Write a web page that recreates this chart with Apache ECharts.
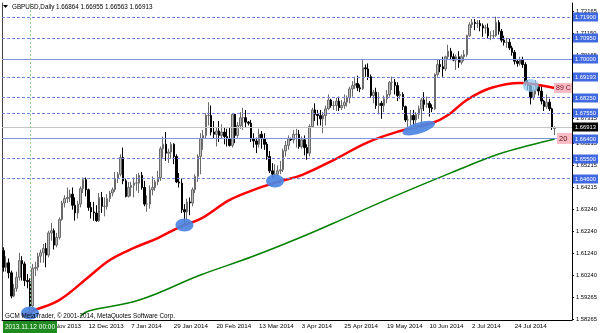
<!DOCTYPE html>
<html><head><meta charset="utf-8">
<script src="https://cdn.jsdelivr.net/npm/echarts@6/dist/echarts.min.js"></script>
<style>html,body{margin:0;padding:0;background:#fff}#c{width:600px;height:333px}</style>
</head><body><div id="c"></div>
<script>
// date, open, high, low, close
const bars = [
['2013-10-29',1.6135,1.6150,1.6040,1.6060],['2013-10-30',1.6060,1.6110,1.6040,1.6080],['2013-10-31',1.6080,1.6100,1.6010,1.6035],
['2013-11-01',1.6035,1.6045,1.5920,1.5930],['2013-11-04',1.5930,1.5985,1.5925,1.5965],['2013-11-05',1.5965,1.6040,1.5950,1.6015],
['2013-11-06',1.6015,1.6125,1.6000,1.6090],['2013-11-07',1.6090,1.6110,1.6000,1.6075],['2013-11-08',1.6075,1.6085,1.5975,1.6000],
['2013-11-11',1.6000,1.6030,1.5965,1.5995],['2013-11-12',1.5995,1.6010,1.5855,1.5885],['2013-11-13',1.5885,1.6075,1.5875,1.6055],
['2013-11-14',1.6055,1.6085,1.6020,1.6060],['2013-11-15',1.6060,1.6125,1.6045,1.6110],['2013-11-18',1.6110,1.6140,1.6080,1.6125],
['2013-11-19',1.6125,1.6165,1.6080,1.6145],['2013-11-20',1.6145,1.6170,1.6060,1.6115],['2013-11-21',1.6115,1.6225,1.6105,1.6215],
['2013-11-22',1.6215,1.6260,1.6180,1.6225],['2013-11-25',1.6225,1.6235,1.6140,1.6160],['2013-11-26',1.6160,1.6215,1.6150,1.6195],
['2013-11-27',1.6195,1.6285,1.6185,1.6275],['2013-11-28',1.6275,1.6360,1.6270,1.6350],['2013-11-29',1.6350,1.6385,1.6330,1.6370],
['2013-12-02',1.6370,1.6420,1.6350,1.6375],['2013-12-03',1.6375,1.6410,1.6355,1.6390],['2013-12-04',1.6390,1.6420,1.6320,1.6340],
['2013-12-05',1.6340,1.6375,1.6270,1.6305],['2013-12-06',1.6305,1.6360,1.6280,1.6345],['2013-12-09',1.6345,1.6425,1.6330,1.6415],
['2013-12-10',1.6415,1.6465,1.6395,1.6455],['2013-12-11',1.6455,1.6465,1.6380,1.6410],['2013-12-12',1.6410,1.6415,1.6315,1.6330],
['2013-12-13',1.6330,1.6355,1.6280,1.6310],['2013-12-16',1.6310,1.6355,1.6270,1.6305],['2013-12-17',1.6305,1.6340,1.6265,1.6270],
['2013-12-18',1.6270,1.6395,1.6265,1.6375],['2013-12-19',1.6375,1.6400,1.6305,1.6335],['2013-12-20',1.6335,1.6375,1.6290,1.6335],
['2013-12-23',1.6335,1.6390,1.6320,1.6370],['2013-12-24',1.6370,1.6405,1.6355,1.6395],['2013-12-26',1.6395,1.6420,1.6380,1.6410],
['2013-12-27',1.6410,1.6490,1.6400,1.6460],['2013-12-30',1.6460,1.6490,1.6440,1.6480],['2013-12-31',1.6480,1.6570,1.6470,1.6555],
['2014-01-02',1.6555,1.6600,1.6435,1.6450],['2014-01-03',1.6450,1.6460,1.6375,1.6380],['2014-01-06',1.6380,1.6445,1.6375,1.6420],
['2014-01-07',1.6420,1.6445,1.6380,1.6430],['2014-01-08',1.6430,1.6465,1.6375,1.6440],['2014-01-09',1.6440,1.6480,1.6405,1.6440],
['2014-01-10',1.6440,1.6485,1.6395,1.6475],['2014-01-13',1.6475,1.6490,1.6410,1.6420],['2014-01-14',1.6420,1.6450,1.6335,1.6345],
['2014-01-15',1.6345,1.6385,1.6310,1.6345],['2014-01-16',1.6345,1.6430,1.6325,1.6410],['2014-01-17',1.6410,1.6470,1.6385,1.6420],
['2014-01-20',1.6420,1.6455,1.6405,1.6445],['2014-01-21',1.6445,1.6495,1.6430,1.6465],['2014-01-22',1.6465,1.6605,1.6450,1.6595],
['2014-01-23',1.6595,1.6650,1.6555,1.6615],['2014-01-24',1.6615,1.6670,1.6540,1.6575],['2014-01-27',1.6575,1.6595,1.6530,1.6580],
['2014-01-28',1.6580,1.6625,1.6550,1.6615],['2014-01-29',1.6615,1.6620,1.6525,1.6560],['2014-01-30',1.6560,1.6570,1.6440,1.6445],
['2014-01-31',1.6445,1.6485,1.6420,1.6440],['2014-02-03',1.6440,1.6460,1.6305,1.6320],['2014-02-04',1.6320,1.6345,1.6252,1.6310],
['2014-02-05',1.6310,1.6370,1.6265,1.6355],['2014-02-06',1.6355,1.6375,1.6295,1.6350],['2014-02-07',1.6350,1.6420,1.6335,1.6410],
['2014-02-10',1.6410,1.6480,1.6395,1.6470],['2014-02-11',1.6470,1.6570,1.6445,1.6560],['2014-02-12',1.6560,1.6665,1.6480,1.6640],
['2014-02-13',1.6640,1.6680,1.6590,1.6655],['2014-02-14',1.6655,1.6755,1.6640,1.6745],['2014-02-17',1.6745,1.6805,1.6700,1.6745],
['2014-02-18',1.6745,1.6790,1.6655,1.6670],['2014-02-19',1.6670,1.6720,1.6640,1.6660],['2014-02-20',1.6660,1.6690,1.6605,1.6675],
['2014-02-21',1.6675,1.6720,1.6625,1.6655],['2014-02-24',1.6655,1.6705,1.6640,1.6670],['2014-02-25',1.6670,1.6690,1.6615,1.6650],
['2014-02-26',1.6650,1.6685,1.6605,1.6640],['2014-02-27',1.6640,1.6690,1.6605,1.6610],['2014-02-28',1.6610,1.6755,1.6600,1.6750],
['2014-03-03',1.6750,1.6755,1.6620,1.6655],['2014-03-04',1.6655,1.6715,1.6645,1.6700],['2014-03-05',1.6700,1.6760,1.6685,1.6735],
['2014-03-06',1.6735,1.6780,1.6680,1.6735],['2014-03-07',1.6735,1.6770,1.6690,1.6715],['2014-03-09',1.6715,1.6720,1.6700,1.6710],
['2014-03-10',1.6710,1.6725,1.6625,1.6640],['2014-03-11',1.6640,1.6665,1.6600,1.6630],['2014-03-12',1.6630,1.6645,1.6575,1.6615],
['2014-03-13',1.6615,1.6685,1.6600,1.6660],['2014-03-14',1.6660,1.6675,1.6595,1.6640],['2014-03-17',1.6640,1.6665,1.6590,1.6615],
['2014-03-18',1.6615,1.6625,1.6545,1.6560],['2014-03-19',1.6560,1.6585,1.6485,1.6495],['2014-03-20',1.6495,1.6530,1.6460,1.6480],
['2014-03-21',1.6480,1.6525,1.6462,1.6480],['2014-03-24',1.6480,1.6520,1.6470,1.6495],['2014-03-25',1.6495,1.6540,1.6480,1.6500],
['2014-03-26',1.6500,1.6595,1.6490,1.6585],['2014-03-27',1.6585,1.6630,1.6560,1.6610],['2014-03-28',1.6610,1.6655,1.6590,1.6640],
['2014-03-30',1.6640,1.6645,1.6630,1.6635],['2014-03-31',1.6635,1.6680,1.6620,1.6660],['2014-04-01',1.6660,1.6685,1.6600,1.6660],
['2014-04-02',1.6660,1.6680,1.6595,1.6605],['2014-04-03',1.6605,1.6650,1.6595,1.6635],['2014-04-04',1.6635,1.6655,1.6565,1.6600],
['2014-04-07',1.6600,1.6615,1.6545,1.6575],['2014-04-08',1.6575,1.6705,1.6560,1.6695],['2014-04-09',1.6695,1.6780,1.6690,1.6770],
['2014-04-10',1.6770,1.6800,1.6720,1.6750],['2014-04-11',1.6750,1.6770,1.6700,1.6745],['2014-04-14',1.6745,1.6770,1.6700,1.6730],
['2014-04-15',1.6730,1.6760,1.6665,1.6745],['2014-04-16',1.6745,1.6790,1.6700,1.6775],['2014-04-17',1.6775,1.6840,1.6770,1.6815],
['2014-04-18',1.6815,1.6820,1.6780,1.6790],['2014-04-21',1.6790,1.6810,1.6770,1.6790],['2014-04-22',1.6790,1.6825,1.6765,1.6810],
['2014-04-23',1.6810,1.6830,1.6765,1.6780],['2014-04-24',1.6780,1.6815,1.6770,1.6790],['2014-04-25',1.6790,1.6840,1.6775,1.6805],
['2014-04-28',1.6805,1.6835,1.6785,1.6825],['2014-04-29',1.6825,1.6875,1.6800,1.6865],['2014-04-30',1.6865,1.6900,1.6830,1.6880],
['2014-05-01',1.6880,1.6920,1.6865,1.6890],['2014-05-02',1.6890,1.6925,1.6855,1.6870],['2014-05-05',1.6870,1.6885,1.6850,1.6865],
['2014-05-06',1.6865,1.6995,1.6860,1.6960],['2014-05-07',1.6960,1.6975,1.6920,1.6955],['2014-05-08',1.6955,1.6980,1.6905,1.6920],
['2014-05-09',1.6920,1.6930,1.6825,1.6835],['2014-05-12',1.6835,1.6860,1.6800,1.6850],['2014-05-13',1.6850,1.6870,1.6775,1.6790],
['2014-05-14',1.6790,1.6850,1.6750,1.6800],['2014-05-15',1.6800,1.6810,1.6730,1.6790],['2014-05-16',1.6790,1.6835,1.6760,1.6820],
['2014-05-19',1.6820,1.6860,1.6800,1.6840],['2014-05-20',1.6840,1.6900,1.6830,1.6895],['2014-05-21',1.6895,1.6920,1.6860,1.6895],
['2014-05-22',1.6895,1.6910,1.6840,1.6880],['2014-05-23',1.6880,1.6895,1.6810,1.6835],['2014-05-26',1.6835,1.6855,1.6820,1.6840],
['2014-05-27',1.6840,1.6850,1.6770,1.6785],['2014-05-28',1.6785,1.6790,1.6715,1.6725],['2014-05-29',1.6725,1.6745,1.6693,1.6725],
['2014-05-30',1.6725,1.6770,1.6700,1.6745],['2014-06-02',1.6745,1.6770,1.6700,1.6725],['2014-06-03',1.6725,1.6760,1.6695,1.6750],
['2014-06-04',1.6750,1.6790,1.6730,1.6775],['2014-06-05',1.6775,1.6825,1.6700,1.6815],['2014-06-06',1.6815,1.6850,1.6765,1.6795],
['2014-06-09',1.6795,1.6830,1.6780,1.6800],['2014-06-10',1.6800,1.6810,1.6740,1.6780],['2014-06-11',1.6780,1.6795,1.6760,1.6775],
['2014-06-12',1.6775,1.6935,1.6770,1.6930],['2014-06-13',1.6930,1.6995,1.6920,1.6975],['2014-06-16',1.6975,1.7000,1.6940,1.6965],
['2014-06-17',1.6965,1.7010,1.6920,1.6955],['2014-06-18',1.6955,1.7015,1.6945,1.7010],['2014-06-19',1.7010,1.7064,1.6995,1.7035],
['2014-06-20',1.7035,1.7050,1.6995,1.7010],['2014-06-23',1.7010,1.7025,1.6990,1.6995],['2014-06-24',1.6995,1.7020,1.6950,1.7010],
['2014-06-25',1.7010,1.7035,1.6960,1.6985],['2014-06-26',1.6985,1.7020,1.6975,1.7010],['2014-06-27',1.7010,1.7040,1.6990,1.7020],
['2014-06-30',1.7020,1.7110,1.7010,1.7105],['2014-07-01',1.7105,1.7165,1.7100,1.7155],['2014-07-02',1.7155,1.7180,1.7140,1.7165],
['2014-07-03',1.7165,1.7180,1.7130,1.7160],['2014-07-04',1.7160,1.7175,1.7140,1.7160],['2014-07-07',1.7160,1.7175,1.7125,1.7150],
['2014-07-08',1.7150,1.7160,1.7100,1.7140],['2014-07-09',1.7140,1.7155,1.7115,1.7140],['2014-07-10',1.7140,1.7160,1.7090,1.7105],
['2014-07-11',1.7105,1.7125,1.7085,1.7105],['2014-07-14',1.7105,1.7130,1.7090,1.7105],['2014-07-15',1.7105,1.7191,1.7100,1.7165],
['2014-07-16',1.7165,1.7175,1.7110,1.7125],['2014-07-17',1.7125,1.7135,1.7075,1.7085],['2014-07-18',1.7085,1.7105,1.7060,1.7075],
['2014-07-21',1.7075,1.7095,1.7050,1.7075],['2014-07-22',1.7075,1.7090,1.7040,1.7050],['2014-07-23',1.7050,1.7060,1.7015,1.7030],
['2014-07-24',1.7030,1.7040,1.6975,1.6990],['2014-07-25',1.6990,1.7000,1.6965,1.6980],['2014-07-28',1.6980,1.7010,1.6970,1.6995],
['2014-07-29',1.6995,1.7010,1.6960,1.6975],['2014-07-30',1.6975,1.6985,1.6880,1.6890],['2014-07-31',1.6890,1.6905,1.6860,1.6880],
['2014-08-01',1.6880,1.6885,1.6795,1.6825],['2014-08-04',1.6825,1.6875,1.6815,1.6860],['2014-08-05',1.6860,1.6905,1.6840,1.6875],
['2014-08-06',1.6875,1.6885,1.6835,1.6855],['2014-08-07',1.6855,1.6880,1.6795,1.6810],['2014-08-08',1.6810,1.6815,1.6765,1.6785],
['2014-08-11',1.6785,1.6840,1.6775,1.6805],['2014-08-12',1.6805,1.6820,1.6765,1.6775],['2014-08-13',1.6775,1.6780,1.6680,1.6690],
['2014-08-14',1.66864,1.66955,1.66563,1.66913]
];
// empty right-hand slots (chart shift)
const futureSlots = ['2014-08-15','2014-08-18','2014-08-19','2014-08-20','2014-08-21','2014-08-22'];

const xTickLabels = ['29 Oct 2013','20 Nov 2013','12 Dec 2013','7 Jan 2014','29 Jan 2014','20 Feb 2014','13 Mar 2014','3 Apr 2014','25 Apr 2014','19 May 2014','10 Jun 2014','2 Jul 2014','24 Jul 2014'];
const tickEvery = 16;

// moving averages: bar index and value
const redMaBar = [7,11,21,32,40,49,58,67,74,85,94,103,112,124,137,149,161,167,174,183,194,201,207];
const redMaVal = [1.5840,1.5863,1.5912,1.6016,1.6093,1.6147,1.6192,1.6246,1.6278,1.6364,1.6409,1.6445,1.6476,1.6544,1.6625,1.6675,1.6711,1.6747,1.6815,1.6869,1.6892,1.6883,1.6869];
const greenMaBar = [29,32,51,74,93,111,130,149,168,186,198,207];
const greenMaVal = [1.5840,1.5863,1.5912,1.6025,1.6106,1.6192,1.6291,1.6391,1.6486,1.6571,1.6612,1.6639];

// horizontal levels
const levelPrices = [1.71900,1.70950,1.70000,1.69193,1.68250,1.67550,1.66400,1.65500,1.64600];
const levelStyles = ['dash','dash','solid','dash','dash','dash','solid','dash','dash'];
const currentPrice = 1.66913;
const plainPriceLabels = [1.72165,1.71150,1.70165,1.67315,1.66215,1.65215,1.64215,1.63240,1.62240,1.61240,1.60240,1.59265,1.58265];

const crossDate = '2013-11-12';
const crossLabel = '2013.11.12 00:00';
// highlighted touch points: [date, price]
const touchMarks = [['2013-11-12',1.5854],['2014-02-04',1.6251],['2014-03-21',1.6449],['2014-06-04',1.6688]];
const touchMarkLight = ['2014-08-01',1.6880];

const FONT = 'Liberation Sans';
const categories = bars.map(b => b[0]).concat(futureSlots);
const candleData = bars.map(b => [b[1], b[4], b[3], b[2]]);

const mlData = [];
levelPrices.forEach((p, i) => mlData.push({
  yAxis: p,
  lineStyle: levelStyles[i] === 'solid' ? {color: '#7f93de', type: 'solid', width: 1} : {color: '#6f82dc', type: [3, 2], width: 1}
}));
mlData.push({yAxis: currentPrice, lineStyle: {color: '#c4c4c4', type: 'solid', width: 1}});
mlData.push({xAxis: crossDate, lineStyle: {color: '#8fd28f', type: [2, 2], width: 1}});

const chart = echarts.init(document.getElementById('c'), null, {renderer: 'canvas'});
const showTick = (i) => i % tickEvery === 0 && i / tickEvery < xTickLabels.length;
chart.setOption({
  animation: false,
  backgroundColor: '#fff',
  grid: {left: 2, right: 28, top: 3, bottom: 13, containLabel: false},
  xAxis: {
    type: 'category', data: categories, boundaryGap: true,
    axisLine: {lineStyle: {color: '#000', width: 1}},
    axisTick: {interval: showTick, alignWithLabel: true, length: 4, lineStyle: {color: '#000'}},
    axisLabel: {interval: showTick, formatter: (v, i) => xTickLabels[i / tickEvery] || '', align: 'left', fontSize: 6.2, color: '#000', margin: 3, fontFamily: FONT},
    splitLine: {show: false}
  },
  yAxis: [
    {type: 'value', position: 'right', min: 1.58220, max: 1.72526, axisLine: {show: true, lineStyle: {color: '#000'}}, axisTick: {show: false}, axisLabel: {show: false}, splitLine: {show: false}},
    {type: 'value', position: 'left', min: 1.58220, max: 1.72526, axisLine: {show: true, lineStyle: {color: '#444'}}, axisTick: {show: false}, axisLabel: {show: false}, splitLine: {show: false}}
  ],
  series: [
    {
      type: 'candlestick', data: candleData, barWidth: 2,
      itemStyle: {color: '#bdbdbd', color0: '#000', borderColor: '#6a6a6a', borderColor0: '#000', borderWidth: 1},
      markLine: {silent: true, precision: 5, symbol: ['none', 'none'], animation: false, label: {show: false}, data: mlData}
    },
    {
      type: 'line', data: greenMaBar.map((b, i) => [b, greenMaVal[i]]), smooth: 0.4, symbol: 'none',
      lineStyle: {color: '#008000', width: 1.5}, z: 3
    },
    {
      type: 'line', data: redMaBar.map((b, i) => [b, redMaVal[i]]), smooth: 0.4, symbol: 'none',
      lineStyle: {color: '#ff0000', width: 2.5}, z: 3
    }
  ]
});

const P = (x, y) => chart.convertToPixel({xAxisIndex: 0, yAxisIndex: 0}, [x, y]);
const plotRight = 572;
const g = [];
// price scale labels
plainPriceLabels.forEach(p => {
  const y = Math.round(P(0, p)[1]);
  g.push({type: 'line', shape: {x1: plotRight, y1: y + 0.5, x2: plotRight + 2, y2: y + 0.5}, style: {stroke: '#000', lineWidth: 1}, z: 120});
  g.push({type: 'text', x: plotRight + 4, y: y, style: {text: p.toFixed(5), fill: '#000', font: '5.8px ' + FONT, verticalAlign: 'middle'}, z: 120});
});
const boxed = levelPrices.map(p => [p, '#4169e1']).concat([[currentPrice, '#000']]);
boxed.forEach(([p, c]) => {
  const y = Math.round(P(0, p)[1]);
  g.push({type: 'rect', shape: {x: plotRight + 1, y: y - 4.5, width: 25, height: 9}, style: {fill: c}, z: 121});
  g.push({type: 'text', x: plotRight + 3, y: y, style: {text: p.toFixed(5), fill: '#fff', font: '5.8px ' + FONT, verticalAlign: 'middle'}, z: 122});
});
touchMarks.forEach((m, i) => {
  const p = P(m[0], m[1]);
  const wide = i === 3;
  g.push({type: 'ellipse', x: p[0], y: p[1], rotation: wide ? 0.3 : 0, shape: {cx: 0, cy: 0, rx: wide ? 17 : 9, ry: wide ? 5.5 : 6.5},
    style: {fill: '#4d86e2', opacity: 0.92}, z: 100});
});
{
  const p = P(touchMarkLight[0], touchMarkLight[1]);
  g.push({type: 'ellipse', x: p[0], y: p[1], shape: {cx: 0, cy: 0, rx: 8, ry: 6.5}, style: {fill: '#8ccaf0', opacity: 0.75}, z: 100});
}
// MA end tags
{
  const pr = P(redMaBar[redMaBar.length - 1], redMaVal[redMaVal.length - 1]);
  g.push({type: 'rect', shape: {x: plotRight - 18, y: pr[1] - 5, width: 18, height: 10}, style: {fill: '#f9bcc6'}, z: 101});
  g.push({type: 'text', x: plotRight - 16, y: pr[1], style: {text: '89 C', fill: '#7a1020', font: '7px ' + FONT, verticalAlign: 'middle'}, z: 102});
  const pg = P(greenMaBar[greenMaBar.length - 1], greenMaVal[greenMaVal.length - 1]);
  g.push({type: 'rect', shape: {x: plotRight - 15, y: pg[1] - 6, width: 15, height: 11}, style: {fill: '#f9bcc6'}, z: 101});
  g.push({type: 'text', x: plotRight - 13, y: pg[1] - 0.5, style: {text: '20', fill: '#5a1010', font: '7.5px ' + FONT, verticalAlign: 'middle'}, z: 102});
}
// crosshair date label
{
  const p = P(crossDate, 1.6);
  g.push({type: 'rect', shape: {x: p[0] - 27, y: 321, width: 54, height: 12}, style: {fill: '#1f8a1f'}, z: 110});
  g.push({type: 'text', x: p[0], y: 327, style: {text: crossLabel, fill: '#fff', font: '6.5px ' + FONT, align: 'center', verticalAlign: 'middle'}, z: 111});
}
// header and footer text
g.push({type: 'polygon', shape: {points: [[3, 5], [8, 5], [5.5, 8]]}, style: {fill: '#000'}, z: 105});
g.push({type: 'text', x: 12, y: 7, style: {text: 'GBPUSD,Daily 1.66864 1.66955 1.66563 1.66913', fill: '#000', font: '6.3px ' + FONT, verticalAlign: 'middle'}, z: 105});
g.push({type: 'text', x: 5, y: 316, style: {text: 'GCM MetaTrader, \u00a9 2001-2014, MetaQuotes Software Corp.', fill: '#000', font: '6.3px ' + FONT, verticalAlign: 'middle'}, z: 105});
chart.setOption({graphic: g});
</script>
</body></html>
